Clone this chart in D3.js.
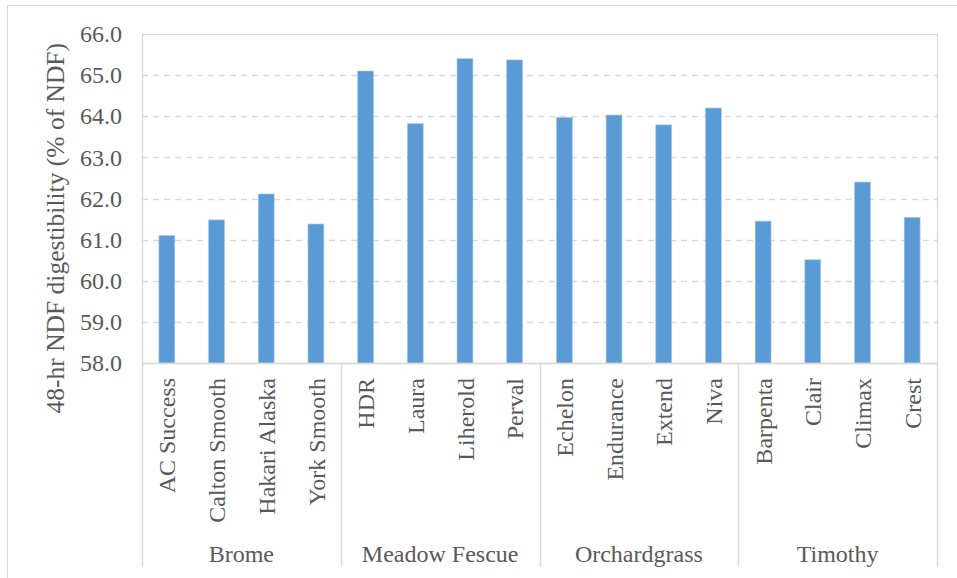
<!DOCTYPE html>
<html><head><meta charset="utf-8">
<script src="https://cdn.jsdelivr.net/npm/d3@7"></script>
<style>body{margin:0;background:#fff}svg{display:block}text{font-family:"Liberation Serif","Times New Roman",serif;fill:#595959}</style>
</head><body><svg id="c" width="957" height="578"></svg>
<script>
const groups = ["Brome","Meadow Fescue","Orchardgrass","Timothy"];
const varieties = ["AC Success","Calton Smooth","Hakari Alaska","York Smooth","HDR","Laura","Liherold","Perval","Echelon","Endurance","Extend","Niva","Barpenta","Clair","Climax","Crest"];
const varietyGroup = ["Brome","Brome","Brome","Brome","Meadow Fescue","Meadow Fescue","Meadow Fescue","Meadow Fescue","Orchardgrass","Orchardgrass","Orchardgrass","Orchardgrass","Timothy","Timothy","Timothy","Timothy"];
const values = [61.10,61.48,62.11,61.38,65.10,63.82,65.40,65.37,63.97,64.03,63.79,64.20,61.45,60.51,62.40,61.54];
const yTicks = [58,59,60,61,62,63,64,65,66];
const yLabel = "48-hr NDF digestibility (% of NDF)";

const svg = d3.select("#c");
const L=142, R=937, T=34, B=363;
const x = d3.scaleBand().domain(varieties).range([L,R]).paddingInner(0.68).paddingOuter(0.34);
const y = d3.scaleLinear().domain([58,66]).range([B,T]);
const grid="#D9D9D9";

// outer chart border
svg.append("rect").attr("x",7.5).attr("y",5.5).attr("width",960).attr("height",600).attr("fill","none").attr("stroke",grid);

// gridlines
svg.append("g").selectAll("line").data(yTicks.slice(1,-1)).join("line")
  .attr("x1",L).attr("x2",R).attr("y1",d=>Math.round(y(d))+0.5).attr("y2",d=>Math.round(y(d))+0.5)
  .attr("stroke",grid).attr("stroke-width",1.5).attr("stroke-dasharray","6,5");
// plot border
svg.append("rect").attr("x",L+0.5).attr("y",T+0.5).attr("width",R-L).attr("height",B-T).attr("fill","none").attr("stroke",grid).attr("stroke-width",1.3);

// bars
svg.append("g").selectAll("rect").data(values).join("rect")
  .attr("x",(d,i)=>x(varieties[i])).attr("width",x.bandwidth())
  .attr("y",d=>y(d)).attr("height",d=>B-y(d))
  .attr("fill","#5B9BD5").attr("stroke","#A9CBEA").attr("stroke-width",0.6);

// y axis
const ya = d3.axisLeft(y).tickValues(yTicks).tickFormat(d3.format(".1f")).tickSize(0).tickPadding(20);
const yg = svg.append("g").attr("transform",`translate(${L},0)`).call(ya);
yg.select(".domain").remove();
yg.selectAll("text").attr("font-size",24).attr("fill","#595959").attr("font-family","Liberation Serif");

svg.append("text").attr("transform",`translate(64,43) rotate(-90)`).attr("text-anchor","end")
  .attr("font-size",25.5).text(yLabel);

// category axis
const xa = d3.axisBottom(x).tickSize(0).tickPadding(0);
const xg = svg.append("g").attr("transform",`translate(0,${B})`).call(xa);
xg.select(".domain").attr("stroke",grid).attr("stroke-width",1.5);
xg.selectAll("text").attr("font-size",24).attr("fill","#595959").attr("font-family","Liberation Serif")
  .attr("text-anchor","end").attr("dy","0.36em").attr("transform","translate(0,15) rotate(-90)").attr("x",0).attr("y",0);

// group separators and labels
const gx = d3.scaleBand().domain(groups).range([L,R]);
const sepPos = [L].concat(groups.map(g=>gx(g)+gx.bandwidth()));
svg.append("g").selectAll("line").data(sepPos).join("line")
  .attr("x1",d=>Math.round(d)+0.5).attr("x2",d=>Math.round(d)+0.5).attr("y1",B).attr("y2",567)
  .attr("stroke",grid).attr("stroke-width",1.5);
svg.append("g").selectAll("text").data(groups).join("text")
  .attr("x",d=>gx(d)+gx.bandwidth()/2).attr("y",562).attr("text-anchor","middle").attr("font-size",24)
  .text(d=>d);
</script></body></html>
